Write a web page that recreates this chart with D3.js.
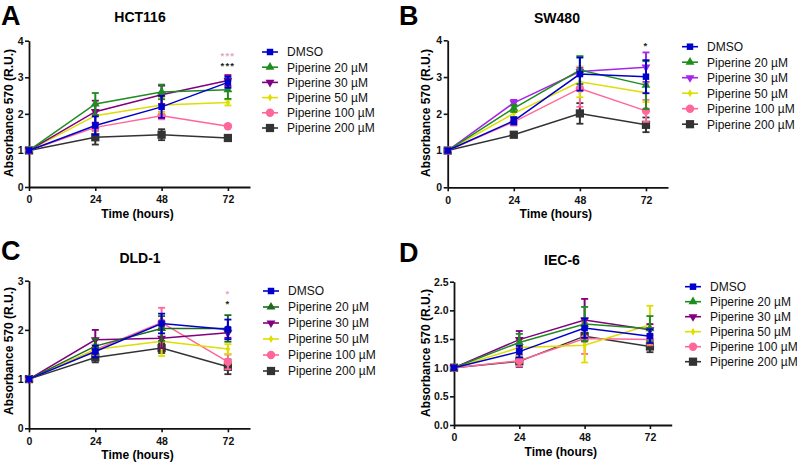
<!DOCTYPE html>
<html><head><meta charset="utf-8">
<script src="https://cdn.jsdelivr.net/npm/d3@7"></script>
<style>
body{margin:0;background:#fff}
svg text{font-family:"Liberation Sans",Arial,Helvetica,sans-serif}
</style>
</head><body>
<svg id="chart" width="797" height="465"></svg>
<script>
// ---------- DATA ----------
const hours = [0, 24, 48, 72];
const xTickValues = [0, 24, 48, 72];
const seriesLabels = ["DMSO", "Piperine 20 µM", "Piperine 30 µM", "Piperine 50 µM", "Piperine 100 µM", "Piperine 200 µM"];
const seriesLabelsIEC6 = ["DMSO", "Piperine 20 µM", "Piperine 30 µM", "Piperina 50 µM", "Piperine 100 µM", "Piperine 200 µM"];

// HCT116 (A)
const hct116Mean = [
  [1, 1.68, 2.19, 2.86],
  [1, 2.27, 2.60, 2.66],
  [1, 2.06, 2.52, 2.91],
  [1, 1.95, 2.24, 2.31],
  [1, 1.63, 1.95, 1.66],
  [1, 1.36, 1.43, 1.34]
];
const hct116Err = [
  [0.02, 0.25, 0.30, 0.15],
  [0.02, 0.30, 0.20, 0.25],
  [0.02, 0.30, 0.25, 0.15],
  [0.02, 0.30, 0.20, 0.08],
  [0.02, 0.10, 0.10, 0.03],
  [0.02, 0.20, 0.15, 0.05]
];
// SW480 (B)
const sw480Mean = [
  [1, 1.81, 3.08, 3.01],
  [1, 2.15, 3.19, 2.78],
  [1, 2.30, 3.15, 3.27],
  [1, 2.01, 2.87, 2.57],
  [1, 1.78, 2.69, 2.08],
  [1, 1.43, 2.01, 1.70]
];
const sw480Err = [
  [0.02, 0.10, 0.45, 0.45],
  [0.02, 0.10, 0.38, 0.65],
  [0.02, 0.08, 0.10, 0.40],
  [0.02, 0.10, 0.42, 0.25],
  [0.02, 0.10, 0.50, 0.30],
  [0.02, 0.05, 0.28, 0.20]
];
// DLD-1 (C)
const dld1Mean = [
  [1, 1.56, 2.13, 2.01],
  [1, 1.67, 2.03, 2.03],
  [1, 1.80, 1.83, 1.94],
  [1, 1.60, 1.77, 1.61],
  [1, 1.60, 2.15, 1.35],
  [1, 1.44, 1.63, 1.25]
];
const dld1Err = [
  [0.02, 0.12, 0.20, 0.20],
  [0.02, 0.15, 0.25, 0.27],
  [0.02, 0.20, 0.20, 0.10],
  [0.02, 0.10, 0.30, 0.10],
  [0.02, 0.10, 0.30, 0.15],
  [0.02, 0.10, 0.10, 0.15]
];
// IEC-6 (D)
const iec6Mean = [
  [1, 1.28, 1.69, 1.55],
  [1, 1.44, 1.76, 1.68],
  [1, 1.49, 1.83, 1.66],
  [1, 1.35, 1.39, 1.75],
  [1, 1.12, 1.51, 1.49],
  [1, 1.11, 1.55, 1.37]
];
const iec6Err = [
  [0.02, 0.10, 0.17, 0.12],
  [0.02, 0.15, 0.30, 0.22],
  [0.02, 0.15, 0.37, 0.10],
  [0.02, 0.15, 0.30, 0.33],
  [0.02, 0.10, 0.27, 0.10],
  [0.02, 0.10, 0.05, 0.10]
];

const yTicksA = [0, 1, 2, 3, 4];
const yTicksB = [0, 1, 2, 3, 4];
const yTicksC = [0, 1, 2, 3];
const yTicksD = [0, 0.5, 1.0, 1.5, 2.0, 2.5];

// significance marks: [label, y value, colour key]
const starsA = [["***", 3.66, "pink"], ["***", 3.37, "dark"]];
const starsB = [["*", 3.92, "dark"]];
const starsC = [["*", 2.79, "pink"], ["*", 2.57, "dark"]];
const starsD = [];

// ---------- STYLE ----------
const colorsStd = ["#0000cc", "#1e8c1e", "#800080", "#dede00", "#ff6699", "#333333"];
const colorsB = ["#0000cc", "#1e8c1e", "#a526e8", "#dede00", "#ff6699", "#333333"];
const colorsC = ["#0000cc", "#1b6b1b", "#800080", "#dede00", "#ff6699", "#333333"];
const starColors = {pink: "#e6a3c8", dark: "#222222"};

const symbolDefs = [
  {type: d3.symbolSquare, size: 42, rot: 0},
  {type: d3.symbolTriangle, size: 34, rot: 0},
  {type: d3.symbolTriangle, size: 34, rot: 180},
  {type: d3.symbolDiamond, size: 18, rot: 0},
  {type: d3.symbolCircle, size: 55, rot: 0},
  {type: d3.symbolSquare, size: 68, rot: 0}
];

const panels = [
  {letter: "A", title: "HCT116", mean: hct116Mean, err: hct116Err, labels: seriesLabels, colors: colorsStd,
   yMax: 4, yTicks: yTicksA, fmt: d3.format("d"), stars: starsA,
   left: 29, right: 250, top: 40.7, bottom: 187, titleX: 140, titleY: 22, letterX: 1, letterY: 25,
   legX: 262, legY: 52, legDy: 15.2, yLabX: 12.5, yLabY: 113},
  {letter: "B", title: "SW480", mean: sw480Mean, err: sw480Err, labels: seriesLabels, colors: colorsB,
   yMax: 4, yTicks: yTicksB, fmt: d3.format("d"), stars: starsB,
   left: 447.7, right: 668, top: 40.3, bottom: 187.3, titleX: 557, titleY: 23, letterX: 399, letterY: 25,
   legX: 682, legY: 46.7, legDy: 15.5, yLabX: 430, yLabY: 113},
  {letter: "C", title: "DLD-1", mean: dld1Mean, err: dld1Err, labels: seriesLabels, colors: colorsC,
   yMax: 3, yTicks: yTicksC, fmt: d3.format("d"), stars: starsC,
   left: 29, right: 250, top: 280.7, bottom: 428.3, titleX: 140, titleY: 263, letterX: 1, letterY: 260,
   legX: 263, legY: 291, legDy: 16, yLabX: 12.5, yLabY: 351},
  {letter: "D", title: "IEC-6", mean: iec6Mean, err: iec6Err, labels: seriesLabelsIEC6, colors: colorsStd,
   yMax: 2.5, yTicks: yTicksD, fmt: d3.format(".1f"), stars: starsD,
   left: 454, right: 671.7, top: 281.7, bottom: 425, titleX: 562, titleY: 265, letterX: 399, letterY: 262,
   legX: 685, legY: 286.7, legDy: 15, yLabX: 430, yLabY: 353}
];

const svg = d3.select("#chart");

function symbolPath(i, scale) {
  const s = symbolDefs[i];
  return d3.symbol().type(s.type).size(s.size * (scale || 1))();
}

panels.forEach(p => {
  const g = svg.append("g");
  const x = d3.scaleLinear().domain([0, 80]).range([p.left, p.right]);
  const y = d3.scaleLinear().domain([0, p.yMax]).range([p.bottom, p.top]);

  // letter + title
  g.append("text").attr("x", p.letterX).attr("y", p.letterY)
    .attr("font-size", 27).attr("font-weight", "bold").text(p.letter);
  g.append("text").attr("x", p.titleX).attr("y", p.titleY).attr("text-anchor", "middle")
    .attr("font-size", 14).attr("font-weight", "bold").text(p.title);

  // axes
  const xAxis = g.append("g").attr("transform", `translate(0,${p.bottom})`)
    .call(d3.axisBottom(x).tickValues(xTickValues).tickSize(4).tickPadding(5).tickSizeOuter(0));
  const yAxis = g.append("g").attr("transform", `translate(${p.left},0)`)
    .call(d3.axisLeft(y).tickValues(p.yTicks).tickFormat(p.fmt).tickSize(4).tickPadding(1.5).tickSizeOuter(0));
  [xAxis, yAxis].forEach(a => {
    a.select(".domain").attr("stroke", "#111").attr("stroke-width", 1.8);
    a.selectAll(".tick line").attr("stroke", "#111").attr("stroke-width", 1.6);
    a.selectAll(".tick text").attr("font-size", 10.5).attr("font-weight", "bold").attr("fill", "#111")
      .attr("font-family", "'Liberation Sans',Arial,sans-serif");
  });
  g.append("text").attr("x", (p.left + p.right) / 2 - 2).attr("y", p.bottom + 31)
    .attr("text-anchor", "middle").attr("font-size", 12).attr("font-weight", "bold").text("Time (hours)");
  g.append("text").attr("transform", `translate(${p.yLabX},${p.yLabY}) rotate(-90)`)
    .attr("text-anchor", "middle").attr("font-size", 12).attr("font-weight", "bold").text("Absorbance 570 (R.U.)");

  // series, drawn from last to first so DMSO is on top
  const line = d3.line().x((d, i) => x(hours[i])).y(d => y(d));
  for (let s = p.mean.length - 1; s >= 0; s--) {
    const col = p.colors[s];
    const sg = g.append("g");
    sg.append("path").datum(p.mean[s]).attr("d", line).attr("fill", "none")
      .attr("stroke", col).attr("stroke-width", 1.5);
    // error bars
    p.mean[s].forEach((m, i) => {
      const e = p.err[s][i];
      if (e < 0.03) return;
      const cx = x(hours[i]);
      sg.append("line").attr("x1", cx).attr("x2", cx).attr("y1", y(m - e)).attr("y2", y(m + e))
        .attr("stroke", col).attr("stroke-width", 2);
      [m - e, m + e].forEach(v => sg.append("line").attr("x1", cx - 3.5).attr("x2", cx + 3.5)
        .attr("y1", y(v)).attr("y2", y(v)).attr("stroke", col).attr("stroke-width", 1.8));
    });
    // markers
    sg.selectAll("path.pt").data(p.mean[s]).enter().append("path").attr("class", "pt")
      .attr("d", symbolPath(s))
      .attr("transform", (d, i) => `translate(${x(hours[i])},${y(d)}) rotate(${symbolDefs[s].rot})`)
      .attr("fill", col);
  }

  // stars
  p.stars.forEach(st => {
    g.append("text").attr("x", x(72)).attr("y", y(st[1]) + 5.5).attr("text-anchor", "middle")
      .attr("font-size", 9.5).attr("letter-spacing", 1.2).attr("font-weight", "bold")
      .attr("fill", starColors[st[2]]).text(st[0]);
  });

  // legend
  p.labels.forEach((lab, s) => {
    const ly = p.legY + s * p.legDy;
    const col = p.colors[s];
    g.append("line").attr("x1", p.legX).attr("x2", p.legX + 16).attr("y1", ly).attr("y2", ly)
      .attr("stroke", col).attr("stroke-width", 1.6);
    g.append("path").attr("d", symbolPath(s))
      .attr("transform", `translate(${p.legX + 8},${ly}) rotate(${symbolDefs[s].rot})`).attr("fill", col);
    g.append("text").attr("x", p.legX + 25).attr("y", ly + 4.3).attr("font-size", 12)
      .attr("fill", "#111").text(lab);
  });
});
</script>
</body></html>
